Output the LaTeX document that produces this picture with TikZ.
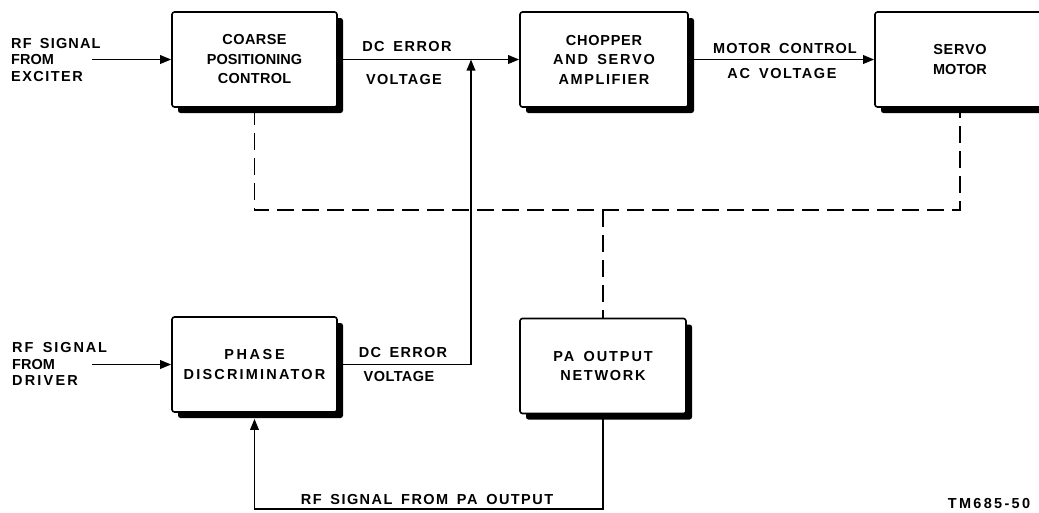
\documentclass[tikz,border=0pt]{standalone}
\usepackage{fontspec}
\setmainfont{Liberation Sans}[WordSpace=1.6]
\usetikzlibrary{arrows.meta,shadows}
\newcommand\wl[2]{{\addfontfeature{LetterSpace=#1}#2}}
\begin{document}
\begin{tikzpicture}[x=1pt,y=-1pt,
  blk/.style={draw, line width=1.6pt, fill=white, rounded corners=2.5pt,
    minimum height=95pt, align=center, inner sep=0pt,
    font=\fontsize{14.5}{19.5}\selectfont\bfseries,
    general shadow={fill=black, shadow xshift=6pt, shadow yshift=-6pt}},
  lbl/.style={font=\fontsize{14.5}{16.5}\selectfont\bfseries, inner sep=0pt},
  wire/.style={line width=1.8pt},
  arr/.style={wire, -{Triangle[length=11pt,width=8.5pt]}},
  dsh/.style={line width=1.8pt, dash pattern=on 17pt off 8pt}]
\useasboundingbox (0,0) rectangle (1039,512);

% blocks
\node[blk, minimum width=165pt] (coarse) at (254.5,59.5)
  {\wl{3}{COARSE}\\\wl{0}{POSITIONING}\\\wl{2}{CONTROL}};
\node[blk, minimum width=168pt] (chopper) at (604,59.5)
  {\wl{5}{CHOPPER}\\\wl{12}{AND SERVO}\\\wl{11}{AMPLIFIER}};
\node[blk, minimum width=170pt] (servo) at (960,59.5)
  {\wl{5}{SERVO}\\\wl{0}{MOTOR}};
\node[blk, minimum width=165pt] (phase) at (254.5,364.5)
  {\wl{18}{PHASE}\\\wl{15}{DISCRIMINATOR}};
\node[blk, minimum width=166pt] (pa) at (603,366)
  {\wl{13}{PA OUTPUT}\\\wl{12}{NETWORK}};

% coordinates
\coordinate (ex) at (92,59.5);
\coordinate (dr) at (92,364.5);
\coordinate (jn) at (471,59.5);
\coordinate (dj) at (603,210);
\coordinate (bl) at (254.5,509);

% solid connectors
\draw[arr] (ex) -- (coarse.west);
\draw[arr] (coarse.east) -- (chopper.west);
\draw[arr] (chopper.east) -- (servo.west);
\draw[arr] (dr) -- (phase.west);
\draw[arr] (phase.east) -| (jn);
\draw[arr] (pa.south) |- (bl) -- ([yshift=-6pt]phase.south);

% dashed mechanical links
\draw[dsh] (coarse.south) |- (dj) -| (servo.south);
\draw[dsh] (dj) -- (pa.north);

% labels
\node[lbl, anchor=west, align=left] (exl) at (11,60)
  {\wl{8}{RF SIGNAL}\\\wl{0}{FROM}\\\wl{10}{EXCITER}};
\node[lbl, anchor=west, align=left] (drl) at (12,364)
  {\wl{13}{RF SIGNAL}\\\wl{0}{FROM}\\\wl{15}{DRIVER}};
\node[lbl] (dc1) at (407,47) {\wl{10}{DC ERROR}};
\node[lbl] (v1) at (404,80) {\wl{9}{VOLTAGE}};
\node[lbl] (mc) at (785,49) {\wl{7}{MOTOR CONTROL}};
\node[lbl] (ac) at (782,74) {\wl{11}{AC VOLTAGE}};
\node[lbl] (dc2) at (403,353) {\wl{9}{DC ERROR}};
\node[lbl] (v2) at (399,377) {\wl{3}{VOLTAGE}};
\node[lbl] (rfpa) at (427,499) {\wl{10}{RF SIGNAL FROM PA OUTPUT}};
\node[lbl] (tm) at (989,503) {\wl{16}{TM685-50}};
\end{tikzpicture}
\end{document}
